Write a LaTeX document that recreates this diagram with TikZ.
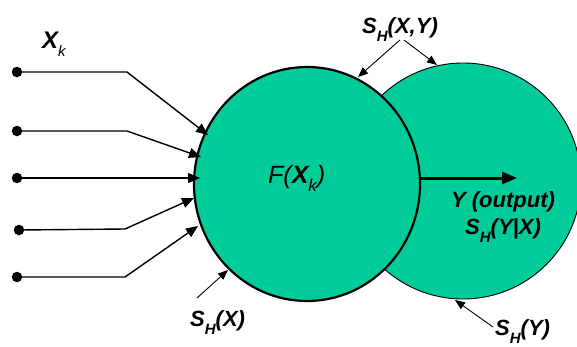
\documentclass[tikz,border=0pt]{standalone}
\usepackage{fontspec}
\setmainfont{Liberation Sans}
\usetikzlibrary{arrows.meta,shapes.geometric}
\definecolor{teal1}{RGB}{0,204,153}
\newcommand{\mysub}[1]{\raisebox{-0.38em}{\fontsize{15}{15}\selectfont #1}}
\tikzset{
  blob/.style={ellipse,fill=teal1,draw=black,inner sep=0pt},
  lbl/.style={font=\fontsize{22}{24}\selectfont\bfseries\itshape,inner sep=0pt},
  dotnode/.style={circle,fill=black,inner sep=0pt,minimum size=10.5pt},
  inarrow/.style={line width=1.4pt,-{Triangle[length=12pt,width=10pt]}},
  thinarrow/.style={line width=0.9pt,-{Triangle[length=10pt,width=8pt]}},
  outarrow/.style={line width=3pt,-{Triangle[length=15pt,width=12pt]}}
}
\begin{document}
\begin{tikzpicture}[x=1pt,y=-1pt]
\useasboundingbox (0,0) rectangle (577,346);
% circles
\node[blob,line width=0.9pt,minimum width=236pt,minimum height=236pt] (R) at (463,181) {};
\node[blob,line width=2.2pt,minimum width=226pt,minimum height=234pt] (L) at (307,184) {};
% input dots
\node[dotnode] (d1) at (17,72) {};
\node[dotnode] (d2) at (17,131) {};
\node[dotnode] (d3) at (17,178) {};
\node[dotnode] (d4) at (19,230) {};
\node[dotnode] (d5) at (17,277) {};
\coordinate (b1) at (127,72);
\coordinate (b2) at (127,131);
\coordinate (b4) at (125,229);
\coordinate (b5) at (125,277);
\coordinate (t1) at (208,135);
\coordinate (t2) at (201,157);
\coordinate (t3) at (200,178);
\coordinate (t4) at (194,198);
\coordinate (t5) at (198,226);
\draw[inarrow] (d1.center) -- (b1) -- (t1);
\draw[inarrow] (d2.center) -- (b2) -- (t2);
\draw[inarrow] (d3.center) -- (t3);
\draw[inarrow] (d4.center) -- (b4) -- (t4);
\draw[inarrow] (d5.center) -- (b5) -- (t5);
% labels
\node[lbl,anchor=base west,font=\fontsize{24}{26}\selectfont\bfseries\itshape] (xk) at (42,48) {X\raisebox{-0.35em}{\fontsize{15}{15}\selectfont\mdseries k}};
\node[lbl,anchor=base west,font=\fontsize{25}{28}\selectfont\itshape] (F) at (268,183) {F(\textbf{X}\raisebox{-0.35em}{\fontsize{17}{17}\selectfont k})};
\node[lbl,anchor=base west] (shx) at (190,326) {S\mysub{H}(X)};
\node[lbl,anchor=base west] (shxy) at (362,33) {S\mysub{H}(X,Y)};
\node[lbl,anchor=base] (yout) at (503,207) {Y (output)};
\node[lbl,anchor=base] (shyx) at (503,234) {S\mysub{H}(Y|X)};
\node[lbl,anchor=base west] (shy) at (495,335) {S\mysub{H}(Y)};
% label arrows
\coordinate (a1s) at (400,40);
\coordinate (a1t) at (358,77);
\coordinate (a2s) at (404,40);
\coordinate (a2t) at (437,65);
\coordinate (a3s) at (197,298);
\coordinate (a3t) at (228,270);
\coordinate (a4s) at (493,327);
\coordinate (a4t) at (455,300);
\draw[thinarrow] (a1s) -- (a1t);
\draw[thinarrow] (a2s) -- (a2t);
\draw[thinarrow] (a3s) -- (a3t);
\draw[thinarrow] (a4s) -- (a4t);
% output arrow
\coordinate (os) at (419,178);
\coordinate (ot) at (517,178);
\draw[outarrow] (os) -- (ot);
\end{tikzpicture}
\end{document}
